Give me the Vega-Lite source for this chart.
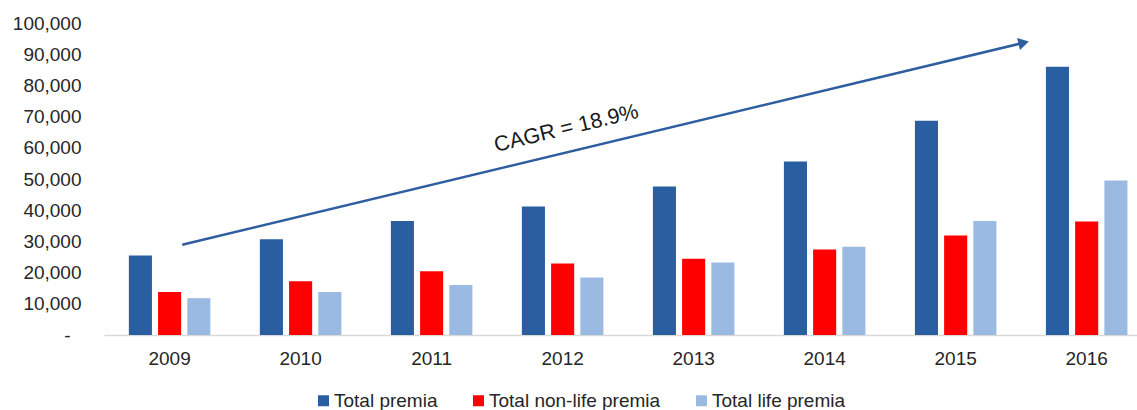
{
  "$schema": "https://vega.github.io/schema/vega-lite/v6.json",
  "width": 1033,
  "height": 312,
  "autosize": {"type": "none"},
  "padding": {"left": 104, "top": 23, "right": 0, "bottom": 75},
  "background": "white",
  "config": {
    "view": {"stroke": null},
    "font": "Liberation Sans",
    "axis": {"labelColor": "#262626", "labelFont": "Liberation Sans", "grid": false, "ticks": false, "title": null}
  },
  "resolve": {"scale": {"x": "independent"}},
  "encoding": {
    "y": {
      "field": "value", "type": "quantitative",
      "scale": {"domain": [0, 100000], "nice": false},
      "axis": {
        "domain": false, "labelFontSize": 19, "labelOverlap": false, "tickCount": 11,
        "labelPadding": {"condition": {"test": "datum.value == 0", "value": 34}, "value": 23},
        "values": [0, 10000, 20000, 30000, 40000, 50000, 60000, 70000, 80000, 90000, 100000],
        "labelExpr": "datum.value == 0 ? '-' : format(datum.value, ',')"
      }
    }
  },
  "layer": [
    {
      "data": {
        "values": [
          {"year": "2009", "series": "Total premia", "value": 25500},
          {"year": "2009", "series": "Total non-life premia", "value": 13750},
          {"year": "2009", "series": "Total life premia", "value": 11800},
          {"year": "2010", "series": "Total premia", "value": 30700},
          {"year": "2010", "series": "Total non-life premia", "value": 17200},
          {"year": "2010", "series": "Total life premia", "value": 13750},
          {"year": "2011", "series": "Total premia", "value": 36560},
          {"year": "2011", "series": "Total non-life premia", "value": 20470},
          {"year": "2011", "series": "Total life premia", "value": 16000},
          {"year": "2012", "series": "Total premia", "value": 41170},
          {"year": "2012", "series": "Total non-life premia", "value": 22940},
          {"year": "2012", "series": "Total life premia", "value": 18460},
          {"year": "2013", "series": "Total premia", "value": 47570},
          {"year": "2013", "series": "Total non-life premia", "value": 24400},
          {"year": "2013", "series": "Total life premia", "value": 23260},
          {"year": "2014", "series": "Total premia", "value": 55570},
          {"year": "2014", "series": "Total non-life premia", "value": 27420},
          {"year": "2014", "series": "Total life premia", "value": 28250},
          {"year": "2015", "series": "Total premia", "value": 68680},
          {"year": "2015", "series": "Total non-life premia", "value": 31900},
          {"year": "2015", "series": "Total life premia", "value": 36560},
          {"year": "2016", "series": "Total premia", "value": 85950},
          {"year": "2016", "series": "Total non-life premia", "value": 36370},
          {"year": "2016", "series": "Total life premia", "value": 49490}
        ]
      },
      "mark": {"type": "bar"},
      "encoding": {
        "x": {
          "field": "year", "type": "ordinal",
          "scale": {"paddingInner": 0.331, "paddingOuter": 0.108, "align": 0.77},
          "axis": {"labelAngle": 0, "labelFontSize": 19, "labelPadding": 14, "domainColor": "#d9d9d9", "domainWidth": 1.5}
        },
        "xOffset": {
          "field": "series", "type": "nominal",
          "sort": ["Total premia", "Total non-life premia", "Total life premia"],
          "scale": {"paddingInner": 0.21, "paddingOuter": 0.105}
        },
        "color": {
          "field": "series", "type": "nominal",
          "scale": {"domain": ["Total premia", "Total non-life premia", "Total life premia"], "range": ["#295EA0", "#FF0000", "#9BBAE2"]},
          "legend": {
            "title": null, "orient": "none", "direction": "horizontal",
            "legendX": 210, "legendY": 368,
            "symbolType": "square", "symbolSize": 121, "symbolStrokeWidth": 0,
            "labelFontSize": 19, "labelColor": "#262626", "labelOffset": 1, "labelLimit": 0, "columnPadding": 31
          }
        }
      }
    },
    {
      "data": {"values": [{"pos": 2009.097, "value": 28950, "pos2": 2015.52, "value2": 93670}]},
      "mark": {"type": "rule", "color": "#2E5DA0", "strokeWidth": 2.5},
      "encoding": {
        "x": {"field": "pos", "type": "quantitative", "scale": {"domain": [2008.5, 2016.385], "nice": false, "zero": false}, "axis": null},
        "x2": {"field": "pos2"},
        "y2": {"field": "value2"}
      }
    },
    {
      "data": {"values": [{"pos": 2015.52, "value": 93670}]},
      "mark": {"type": "point", "shape": "triangle-right", "filled": true, "color": "#2E5DA0", "size": 150, "angle": -13.5, "opacity": 1},
      "encoding": {
        "x": {"field": "pos", "type": "quantitative", "scale": {"domain": [2008.5, 2016.385], "nice": false, "zero": false}, "axis": null}
      }
    },
    {
      "data": {"values": [{"pos": 2012.03, "value": 66060, "label": "CAGR = 18.9%"}]},
      "mark": {"type": "text", "fontSize": 21.5, "angle": -13.5, "color": "#1a1a1a", "align": "center", "baseline": "middle", "font": "Liberation Sans"},
      "encoding": {
        "x": {"field": "pos", "type": "quantitative", "scale": {"domain": [2008.5, 2016.385], "nice": false, "zero": false}, "axis": null},
        "text": {"field": "label"}
      }
    }
  ]
}
